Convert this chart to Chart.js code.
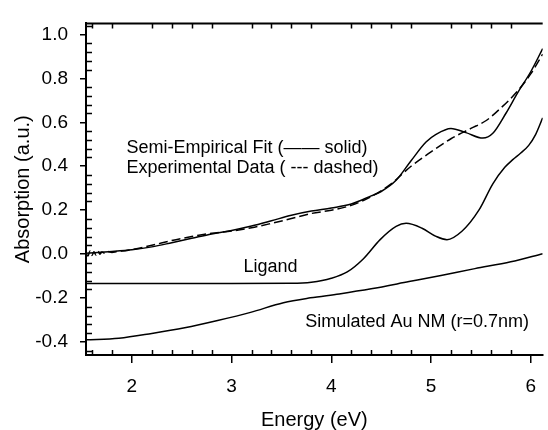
<!DOCTYPE html>
<html>
<head>
<meta charset="utf-8">
<script src="https://cdn.jsdelivr.net/npm/chart.js@4"></script>
<style>
  html, body { margin: 0; padding: 0; background: #fff; }
  #chart-box { width: 548px; height: 430px; }
</style>
</head>
<body>
<div id="chart-box"><canvas id="chart"></canvas></div>
<script>
const xTickValues = [2, 3, 4, 5, 6]
const yTickValues = [-0.4, -0.2, 0.0, 0.2, 0.4, 0.6, 0.8, 1.0]

// semi-empirical fit (solid)
const fitEnergy = [1.54, 1.8, 2.0, 2.2, 2.4, 2.6, 2.8, 3.0, 3.2, 3.4, 3.6, 3.8, 4.0, 4.2, 4.4, 4.5, 4.65, 4.8, 4.95, 5.05, 5.2, 5.35, 5.52, 5.62, 5.75, 5.87, 6.0, 6.12]
const fitAbs = [0.004, 0.012, 0.02, 0.033, 0.052, 0.072, 0.092, 0.108, 0.128, 0.152, 0.177, 0.196, 0.21, 0.228, 0.265, 0.285, 0.336, 0.425, 0.51, 0.545, 0.572, 0.553, 0.528, 0.55, 0.64, 0.735, 0.83, 0.935]

// experimental data (dashed), noisy at low energy
const expEnergy = [1.54, 1.56, 1.58, 1.6, 1.62, 1.64, 1.66, 1.68, 1.7, 1.73, 1.76, 1.8, 1.85, 1.9, 2.0, 2.2, 2.4, 2.6, 2.8, 3.0, 3.2, 3.4, 3.6, 3.8, 4.0, 4.2, 4.4, 4.6, 4.8, 5.0, 5.2, 5.4, 5.55, 5.7, 5.85, 6.0, 6.12]
const expAbs = [0.004, -0.008, 0.014, -0.006, 0.011, -0.004, 0.012, 0.0, 0.01, 0.003, 0.012, 0.008, 0.012, 0.014, 0.021, 0.04, 0.062, 0.08, 0.095, 0.105, 0.12, 0.14, 0.162, 0.185, 0.2, 0.222, 0.262, 0.32, 0.4, 0.465, 0.525, 0.572, 0.607, 0.665, 0.733, 0.82, 0.91]

const ligandEnergy = [1.54, 3.0, 3.6, 3.8, 4.0, 4.16, 4.32, 4.49, 4.65, 4.75, 4.91, 5.05, 5.16, 5.31, 5.48, 5.62, 5.74, 5.82, 5.9, 5.98, 6.05, 6.12]
const ligandAbs = [-0.134, -0.134, -0.133, -0.128, -0.11, -0.081, -0.022, 0.066, 0.126, 0.14, 0.118, 0.081, 0.066, 0.104, 0.2, 0.32, 0.395, 0.43, 0.46, 0.495, 0.545, 0.62]

const auEnergy = [1.54, 1.87, 2.2, 2.53, 2.86, 3.19, 3.52, 3.79, 4.08, 4.4, 4.78, 5.1, 5.44, 5.8, 6.12]
const auAbs = [-0.39, -0.383, -0.361, -0.335, -0.302, -0.265, -0.221, -0.199, -0.181, -0.158, -0.125, -0.097, -0.066, -0.035, 0.002]

const FONT = "'Liberation Sans', Arial, sans-serif"

const toPoints = (xs, ys) => xs.map((x, i) => ({ x: x, y: ys[i] }))

const lineSet = (label, xs, ys, dash) => ({
  label: label,
  data: toPoints(xs, ys),
  borderColor: '#000',
  borderWidth: 1.5,
  borderDash: dash || [],
  pointRadius: 0,
  fill: false,
  cubicInterpolationMode: 'monotone',
})

// inward minor ticks, top frame line and text labels
const framePlugin = {
  id: 'frame',
  afterDraw: (chart) => {
    const { ctx, chartArea, scales } = chart
    const x = scales.x
    const y = scales.y
    ctx.save()
    ctx.strokeStyle = '#000'
    ctx.lineWidth = 1.5
    ctx.beginPath()
    for (let i = 8; i <= 30; i++) {
      if (i % 5 === 0) continue
      const px = Math.round(x.getPixelForValue(i / 5)) + 0.5
      ctx.moveTo(px, chartArea.bottom)
      ctx.lineTo(px, chartArea.bottom - 5)
      ctx.moveTo(px, chartArea.top)
      ctx.lineTo(px, chartArea.top + 5)
    }
    for (let i = -11; i <= 26; i++) {
      if (i % 5 === 0) continue
      const py = Math.round(y.getPixelForValue(i * 0.04)) + 0.5
      ctx.moveTo(chartArea.left, py)
      ctx.lineTo(chartArea.left + 6, py)
    }
    ctx.stroke()

    ctx.lineWidth = 2
    ctx.beginPath()
    ctx.moveTo(chartArea.left - 1, chartArea.top)
    ctx.lineTo(chartArea.right, chartArea.top)
    ctx.stroke()

    ctx.fillStyle = '#000'
    ctx.font = '18px ' + FONT
    ctx.textBaseline = 'middle'
    ctx.textAlign = 'left'
    ctx.fillText('Semi-Empirical Fit (\u2014\u2014 solid)', x.getPixelForValue(1.945), y.getPixelForValue(0.482))
    ctx.fillText('Experimental Data ( --- dashed)', x.getPixelForValue(1.945), y.getPixelForValue(0.393))
    ctx.fillText('Simulated Au NM (r=0.7nm)', x.getPixelForValue(3.74), y.getPixelForValue(-0.31))
    ctx.textAlign = 'center'
    ctx.fillText('Ligand', x.getPixelForValue(3.39), y.getPixelForValue(-0.059))
    ctx.restore()
  },
}

new Chart(document.getElementById('chart'), {
  type: 'line',
  data: {
    datasets: [
      lineSet('Semi-Empirical Fit', fitEnergy, fitAbs),
      lineSet('Experimental Data', expEnergy, expAbs, [9, 4]),
      lineSet('Ligand', ligandEnergy, ligandAbs),
      lineSet('Simulated Au NM', auEnergy, auAbs),
    ],
  },
  plugins: [framePlugin],
  options: {
    responsive: true,
    maintainAspectRatio: false,
    animation: false,
    layout: { padding: { top: 14, right: 0, left: 0, bottom: 0 } },
    plugins: {
      legend: { display: false },
      tooltip: { enabled: false },
    },
    scales: {
      x: {
        type: 'linear',
        min: 1.54,
        max: 6.12,
        afterBuildTicks: (scale) => {
          scale.ticks = xTickValues.map((v) => ({ value: v }))
        },
        afterFit: (scale) => {
          scale.height = 75
        },
        border: { display: true, color: '#000', width: 2 },
        grid: { drawOnChartArea: false, drawTicks: true, tickLength: 8, color: '#000', lineWidth: 1.5 },
        ticks: {
          color: '#000',
          padding: 12,
          font: { family: FONT, size: 19 },
          callback: (v) => String(v),
        },
        title: {
          display: true,
          text: 'Energy (eV)',
          color: '#000',
          font: { family: FONT, size: 20, lineHeight: 1 },
          padding: { top: 0, bottom: 0 },
        },
      },
      y: {
        type: 'linear',
        min: -0.459,
        max: 1.05,
        afterBuildTicks: (scale) => {
          scale.ticks = yTickValues.map((v) => ({ value: v }))
        },
        afterFit: (scale) => {
          scale.width = 86
        },
        border: { display: true, color: '#000', width: 2 },
        grid: { drawOnChartArea: false, drawTicks: true, tickLength: 6, color: '#000', lineWidth: 1.5 },
        ticks: {
          color: '#000',
          padding: 12,
          font: { family: FONT, size: 19 },
          callback: (v) => v.toFixed(1),
        },
        title: {
          display: true,
          text: 'Absorption (a.u.)',
          color: '#000',
          font: { family: FONT, size: 20, lineHeight: 1 },
          padding: { top: 13, bottom: 0 },
        },
      },
    },
  },
})
</script>
</body>
</html>
